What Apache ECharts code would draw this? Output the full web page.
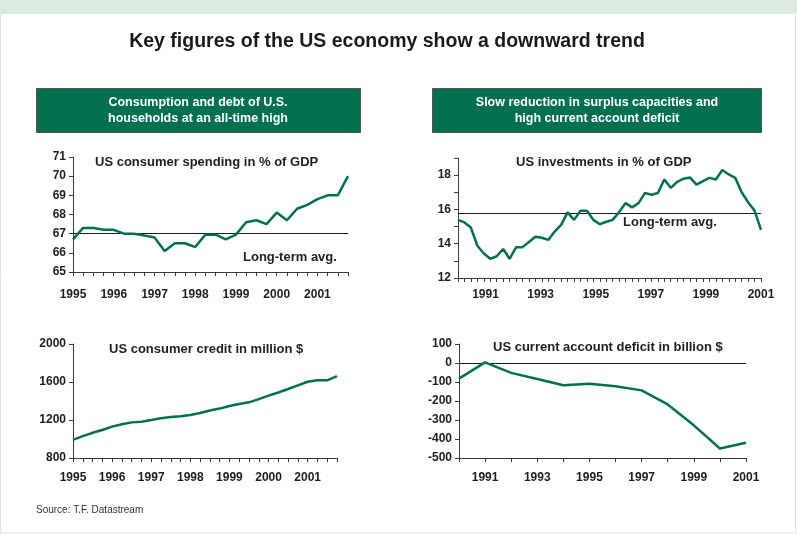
<!DOCTYPE html>
<html>
<head>
<meta charset="utf-8">
<title>Key figures of the US economy</title>
<script src="https://cdn.jsdelivr.net/npm/echarts@6/dist/echarts.min.js"></script>
<style>
  html, body { margin: 0; padding: 0; background: #ffffff; }
  #chart { width: 797px; height: 536px; }
</style>
</head>
<body>
<div id="chart"></div>
<script>
// Quarterly years for the household panels (1995 Q1 .. 2001 Q4)
const householdYears = [1995, 1996, 1997, 1998, 1999, 2000, 2001];
const quarters = householdYears.flatMap(y => ['Q1', 'Q2', 'Q3', 'Q4'].map(q => y + ' ' + q));

// US consumer spending in % of GDP
const consumerSpending = [66.7, 67.3, 67.3, 67.2, 67.2, 67.0, 67.0, 66.9,
  66.8, 66.1, 66.5, 66.5, 66.3, 66.95, 66.95, 66.7,
  66.95, 67.6, 67.7, 67.5, 68.1, 67.7, 68.3, 68.5,
  68.8, 69.0, 69.0, 70.0];
const spendingAvg = 67;

// US consumer credit in million $
const consumerCredit = [990, 1030, 1065, 1095, 1130, 1155, 1175, 1182,
  1200, 1218, 1232, 1240, 1253, 1274, 1300, 1320,
  1347, 1368, 1386, 1420, 1456, 1490, 1526, 1565,
  1603, 1618, 1618, 1662];

// US investments in % of GDP (48 observations, 1990 - 2001)
const investments = [15.39, 15.24, 14.94, 13.88, 13.43, 13.12, 13.27, 13.69,
  13.12, 13.79, 13.8, 14.1, 14.41, 14.35, 14.22, 14.71,
  15.1, 15.83, 15.39, 15.92, 15.92, 15.39, 15.14, 15.28,
  15.39, 15.85, 16.37, 16.12, 16.37, 16.96, 16.86, 16.96,
  17.75, 17.26, 17.61, 17.79, 17.86, 17.45, 17.65, 17.84,
  17.75, 18.3, 18.04, 17.84, 17.0, 16.42, 15.93, 14.81];
const investmentObs = investments.map((_, i) => 'obs ' + (i + 1));
const investmentAvg = 15.8;
const investmentYearRange = [1990, 2001];

// US current account deficit in billion $
const deficitYears = ['1990', '1991', '1992', '1993', '1994', '1995', '1996', '1997', '1998', '1999', '2000', '2001'];
const currentAccount = [-82, 3, -52, -84, -117, -109, -122, -144, -218, -328, -450, -420];

const FONT = 'Liberation Sans, Arial, Helvetica, sans-serif';
const GREEN = '#00704e';
const INK = '#1e1e1e';
const AXIS = '#3a3a3a';

const chart = echarts.init(document.getElementById('chart'), null, { renderer: 'canvas' });

function axisLine() { return { show: true, onZero: false, lineStyle: { color: AXIS, width: 1 } }; }
function labelStyle(extra) {
  return Object.assign({ color: INK, fontFamily: FONT, fontWeight: 'bold', fontSize: 12 }, extra || {});
}
function tick(extra) {
  return Object.assign({ show: true, length: 4, lineStyle: { color: AXIS, width: 1 } }, extra || {});
}
const plain = v => String(v);
function lineSeries(data, xi, yi, mark) {
  const s = {
    type: 'line', data: data, xAxisIndex: xi, yAxisIndex: yi,
    symbol: 'none', smooth: false, z: 3,
    lineStyle: { color: GREEN, width: 2.5 }
  };
  if (mark !== undefined) {
    s.markLine = {
      silent: true, symbol: ['none', 'none'], label: { show: false },
      lineStyle: { color: '#1a1a1a', width: 1, type: 'solid' },
      data: [{ yAxis: mark }], z: 2
    };
  }
  return s;
}
function text(str, x, y, opts) {
  return {
    type: 'text', x: x, y: y, z: 10,
    style: Object.assign({
      text: str, fill: INK, fontFamily: FONT, fontWeight: 'bold', fontSize: 13,
      textAlign: 'left', textVerticalAlign: 'middle'
    }, opts || {})
  };
}

const option = {
  backgroundColor: '#ffffff',
  animation: false,
  grid: [
    { left: 73, top: 157, width: 275, height: 115 },
    { left: 458, top: 158, width: 303, height: 120 },
    { left: 73, top: 344, width: 264, height: 114 },
    { left: 459, top: 344, width: 287, height: 114 }
  ],
  xAxis: [
    { // 0: household spending
      type: 'category', gridIndex: 0, data: quarters, boundaryGap: false,
      axisLine: axisLine(), axisTick: tick({ interval: 0 }),
      axisLabel: labelStyle({ interval: 3, margin: 17, formatter: v => v.slice(0, 4) }),
      splitLine: { show: false }
    },
    { // 1: investments, one tick per observation
      type: 'category', gridIndex: 1, data: investmentObs, boundaryGap: false,
      axisLine: axisLine(), axisTick: tick({ interval: 0 }),
      axisLabel: { show: false }, splitLine: { show: false }
    },
    { // 2: investments, year labels
      type: 'value', gridIndex: 1, position: 'bottom',
      min: investmentYearRange[0], max: investmentYearRange[1], interval: 1,
      axisLine: { show: false }, axisTick: { show: false }, splitLine: { show: false },
      axisLabel: labelStyle({ margin: 11, showMinLabel: true, showMaxLabel: true,
        formatter: v => (v % 2 === 1 ? String(v) : '') })
    },
    { // 3: consumer credit
      type: 'category', gridIndex: 2, data: quarters, boundaryGap: false,
      axisLine: axisLine(), axisTick: tick({ interval: 0 }),
      axisLabel: labelStyle({ interval: 3, margin: 14, formatter: v => v.slice(0, 4) }),
      splitLine: { show: false }
    },
    { // 4: current account
      type: 'category', gridIndex: 3, data: deficitYears, boundaryGap: false,
      axisLine: axisLine(), axisTick: tick({ interval: 0 }),
      axisLabel: labelStyle({ margin: 14, interval: (i) => i % 2 === 1 }),
      splitLine: { show: false }
    }
  ],
  yAxis: [
    {
      type: 'value', gridIndex: 0, min: 65, max: 71, interval: 1,
      axisLine: axisLine(), axisTick: tick(), splitLine: { show: false },
      axisLabel: labelStyle({ margin: 7, formatter: plain })
    },
    {
      type: 'value', gridIndex: 1, min: 12, max: 19, interval: 1,
      axisLine: axisLine(), axisTick: tick(), splitLine: { show: false },
      axisLabel: labelStyle({ margin: 7, formatter: v => (v % 2 === 0 ? String(v) : '') })
    },
    {
      type: 'value', gridIndex: 2, min: 800, max: 2000, interval: 400,
      axisLine: axisLine(), axisTick: tick(), splitLine: { show: false },
      axisLabel: labelStyle({ margin: 7, formatter: plain })
    },
    {
      type: 'value', gridIndex: 3, min: -500, max: 100, interval: 100,
      axisLine: axisLine(), axisTick: tick(), splitLine: { show: false },
      axisLabel: labelStyle({ margin: 7, formatter: plain })
    }
  ],
  series: [
    lineSeries(consumerSpending, 0, 0, spendingAvg),
    lineSeries(investments, 1, 1, investmentAvg),
    lineSeries(consumerCredit, 3, 2),
    lineSeries(currentAccount, 4, 3, 0)
  ],
  graphic: [
    { type: 'rect', z: 0, shape: { x: 0, y: 0, width: 797, height: 13 }, style: { fill: '#dbebe1' } },
    { type: 'rect', z: 0, shape: { x: 0.5, y: 13.5, width: 795, height: 519.5 },
      style: { fill: 'none', stroke: '#dbe6e0', lineWidth: 1 } },
    text('Key figures of the US economy show a downward trend', 387, 42,
      { fontSize: 19.5, textAlign: 'center', fill: '#1a1a1a' }),
    { type: 'rect', z: 1, shape: { x: 36.5, y: 88.5, width: 324, height: 44 },
      style: { fill: '#00704f', stroke: '#555555', lineWidth: 1 } },
    { type: 'rect', z: 1, shape: { x: 432.5, y: 88.5, width: 329, height: 44 },
      style: { fill: '#00704f', stroke: '#555555', lineWidth: 1 } },
    text('Consumption and debt of U.S.\nhouseholds at an all-time high', 198, 111,
      { fontSize: 12.5, textAlign: 'center', fill: '#ffffff', lineHeight: 16 }),
    text('Slow reduction in surplus capacities and\nhigh current account deficit', 597, 111,
      { fontSize: 12.5, textAlign: 'center', fill: '#ffffff', lineHeight: 16 }),
    text('US consumer spending in % of GDP', 95, 162),
    text('Long-term avg.', 243, 257),
    text('US investments in % of GDP', 516, 162),
    text('Long-term avg.', 623, 222),
    text('US consumer credit in million $', 109, 349),
    text('US current account deficit in billion $', 493, 347),
    text('Source: T.F. Datastream', 36, 510, { fontSize: 10, fontWeight: 'normal', fill: '#333333' })
  ]
};

chart.setOption(option);
</script>
</body>
</html>
